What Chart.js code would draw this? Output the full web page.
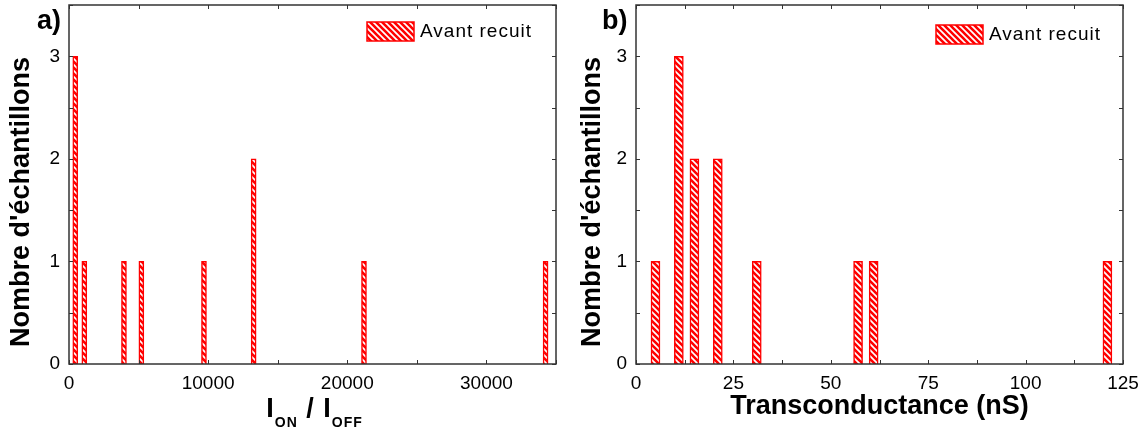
<!DOCTYPE html>
<html>
<head>
<meta charset="utf-8">
<script src="https://cdn.jsdelivr.net/npm/chart.js@4.4.0/dist/chart.umd.min.js"></script>
<style>
  body { margin: 0; background: #fff; }
  #wrap { position: relative; width: 1143px; height: 434px; }
  canvas { position: absolute; top: 0; }
</style>
</head>
<body>
<div id="wrap">
  <canvas id="ratio" width="571" height="434" style="left:0"></canvas>
  <canvas id="gm" width="572" height="434" style="left:571px"></canvas>
</div>
<script>
// data
const seriesLabel = 'Avant recuit';
const yTitle = "Nombre d'échantillons";
const ratioValues = [450, 1100, 3950, 5200, 9700, 13270, 21200, 34250];
const ratioCounts = [3, 1, 1, 1, 1, 2, 1, 1];
const gmValues = [5, 11, 15, 21, 31, 57, 61, 121];
const gmCounts = [1, 3, 2, 2, 1, 1, 1, 1];
const countTicks = [0, 1, 2, 3];
const ratioTicks = [0, 10000, 20000, 30000];
const gmTicks = [0, 25, 50, 75, 100, 125];

const FONT = "'Liberation Sans', Arial, sans-serif";

function hatch() {
  const c = document.createElement('canvas');
  c.width = 6; c.height = 6;
  const g = c.getContext('2d');
  g.fillStyle = '#fff';
  g.fillRect(0, 0, 6, 6);
  g.strokeStyle = '#ff0000';
  g.lineWidth = 2.6;
  g.beginPath();
  g.moveTo(-2, -2); g.lineTo(8, 8);
  g.moveTo(-2, 4); g.lineTo(2, 8);
  g.moveTo(4, -2); g.lineTo(8, 2);
  g.stroke();
  return g.createPattern(c, 'repeat');
}

// box round the plot, inward ticks, panel letter, legend, titles
const frame = {
  id: 'frame',
  afterDraw(chart) {
    const ctx = chart.ctx;
    const a = chart.chartArea;
    const sx = chart.scales.x, sy = chart.scales.y;
    const o = chart.options.plugins.frame;
    ctx.save();
    ctx.strokeStyle = '#333';
    ctx.lineWidth = 1;
    ctx.beginPath();
    sx.ticks.forEach(t => {
      const px = Math.round(sx.getPixelForValue(t.value)) + 0.5;
      ctx.moveTo(px, a.bottom); ctx.lineTo(px, a.bottom - 4);
      ctx.moveTo(px, a.top); ctx.lineTo(px, a.top + 4);
    });
    sy.ticks.forEach(t => {
      const py = Math.round(sy.getPixelForValue(t.value)) + 0.5;
      ctx.moveTo(a.left, py); ctx.lineTo(a.left + 4, py);
      ctx.moveTo(a.right, py); ctx.lineTo(a.right - 4, py);
    });
    ctx.stroke();
    ctx.lineWidth = 1.5;
    ctx.strokeRect(a.left, a.top, a.right - a.left, a.bottom - a.top);

    // panel letter
    ctx.fillStyle = '#000';
    ctx.font = 'bold 27px ' + FONT;
    ctx.textBaseline = 'alphabetic';
    ctx.textAlign = 'left';
    ctx.fillText(o.letter, o.letterX, 29);

    // y title, sits a little low like the original
    ctx.save();
    ctx.translate(22, 202);
    ctx.rotate(-Math.PI / 2);
    ctx.textAlign = 'center';
    ctx.textBaseline = 'middle';
    ctx.fillText(yTitle, 0, 0);
    ctx.restore();

    // legend
    const ds = chart.data.datasets[0];
    const bx = a.right - o.legendRight, by = a.top + o.legendTop;
    ctx.fillStyle = ds.backgroundColor;
    ctx.fillRect(bx, by, 47, 19);
    ctx.strokeStyle = '#ff0000';
    ctx.lineWidth = 1.5;
    ctx.strokeRect(bx, by, 47, 19);
    ctx.fillStyle = '#000';
    ctx.font = '19px ' + FONT;
    ctx.letterSpacing = '1px';
    ctx.textBaseline = 'middle';
    ctx.fillText(ds.label, bx + 53, by + 10);

    // I_ON / I_OFF title with subscripts
    if (o.subTitle) {
      const parts = [
        ['I', 'bold 27px ', 0], ['ON', 'bold 14px ', 10],
        [' / ', 'bold 27px ', 0], ['I', 'bold 27px ', 0], ['OFF', 'bold 14px ', 10]
      ];
      let w = 0;
      parts.forEach(p => { ctx.font = p[1] + FONT; w += ctx.measureText(p[0]).width; });
      let x = (a.left + a.right) / 2 - w / 2 + 2;
      ctx.textBaseline = 'alphabetic';
      parts.forEach(p => {
        ctx.font = p[1] + FONT;
        ctx.fillText(p[0], x, 417 + p[2]);
        x += ctx.measureText(p[0]).width;
      });
    }
    ctx.restore();
  }
};

function makeChart(id, xs, ys, o) {
  const ctx = document.getElementById(id).getContext('2d');
  return new Chart(ctx, {
    type: 'bar',
    data: {
      datasets: [{
        label: seriesLabel,
        data: xs.map((x, i) => ({ x: x, y: ys[i] })),
        backgroundColor: hatch(),
        borderColor: '#ff0000',
        borderWidth: 1.5,
        borderSkipped: 'bottom',
        barThickness: o.barW
      }]
    },
    options: {
      responsive: false,
      animation: false,
      layout: { padding: { left: 0, top: 5, right: o.padRight, bottom: 0 } },
      plugins: {
        legend: { display: false },
        tooltip: { enabled: false },
        frame: { letter: o.letter, letterX: o.letterX, legendRight: o.legendRight, legendTop: o.legendTop, subTitle: o.subTitle }
      },
      scales: {
        x: {
          type: 'linear',
          min: 0, max: o.xMax,
          offset: false,
          grid: { display: false, drawTicks: false, offset: false },
          border: { display: false },
          ticks: {
            stepSize: o.xStep,
            autoSkip: false,
            maxRotation: 0,
            padding: 8,
            color: '#000',
            font: { family: FONT, size: 19 },
            callback: v => o.xLabels.includes(v) ? String(v) : ''
          },
          title: {
            display: !!o.xTitle,
            text: o.xTitle || '',
            color: '#000',
            font: { family: FONT, size: 27, weight: 'bold' },
            padding: { top: 0, bottom: 11 }
          },
          afterFit: s => { s.height = 70; s.paddingLeft = 0; s.paddingRight = 0; }
        },
        y: {
          min: 0, max: 3.5,
          grid: { display: false, drawTicks: false },
          border: { display: false },
          ticks: {
            stepSize: 0.5,
            autoSkip: false,
            padding: 9,
            color: '#000',
            font: { family: FONT, size: 19 },
            callback: v => countTicks.includes(v) ? String(v) : ''
          },
          afterFit: s => { s.width = o.yWidth; s.paddingTop = 0; s.paddingBottom = 0; }
        }
      }
    },
    plugins: [frame]
  });
}

makeChart('ratio', ratioValues, ratioCounts, {
  xMax: 35000, xStep: 5000, xLabels: ratioTicks, barW: 5,
  yWidth: 69, padRight: 15, xTitle: null, subTitle: true,
  letter: 'a)', letterX: 37, legendRight: 189, legendTop: 17
});
makeChart('gm', gmValues, gmCounts, {
  xMax: 125, xStep: 12.5, xLabels: gmTicks, barW: 9,
  yWidth: 65, padRight: 20, xTitle: 'Transconductance (nS)', subTitle: false,
  letter: 'b)', letterX: 31, legendRight: 187, legendTop: 20
});
</script>
</body>
</html>
